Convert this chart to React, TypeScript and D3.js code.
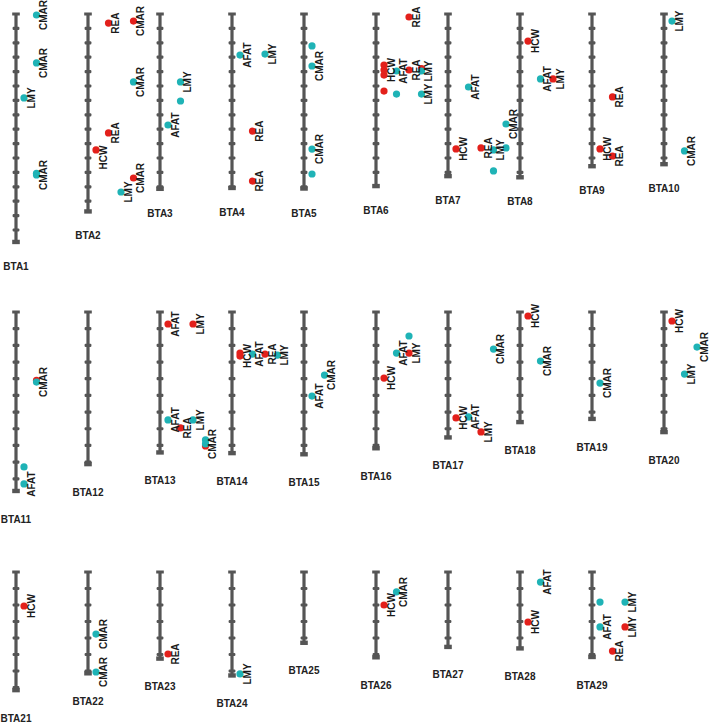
import React from "react";
import * as d3 from "d3";

// ---------- data ----------
const chromosomes = [
  "BTA1","BTA2","BTA3","BTA4","BTA5","BTA6","BTA7","BTA8","BTA9","BTA10",
  "BTA11","BTA12","BTA13","BTA14","BTA15","BTA16","BTA17","BTA18","BTA19","BTA20",
  "BTA21","BTA22","BTA23","BTA24","BTA25","BTA26","BTA27","BTA28","BTA29",
];
// chromosome lengths (Mb)
const chromLengths = [
  158.3, 137.1, 121.4, 120.8, 121.2, 119.5, 112.6, 113.4, 105.7, 104.3,
  107.3, 91.2, 84.2, 84.6, 85.3, 81.7, 75.2, 66.0, 64.1, 72.0,
  71.6, 61.4, 52.5, 62.7, 42.9, 51.7, 45.4, 46.3, 51.5,
];
const tickStepMb = 10;
const traits = ["HCW", "REA", "AFAT", "LMY", "CMAR"];
const effectClasses = ["red", "teal"];

// [chromosome, position Mb, lane, trait label ("" = unlabeled), class, label position Mb (optional)]
type Qtl = [string, number, number, string, string, number?];
const qtls: Qtl[] = [
  // BTA1
  ["BTA1", 0.7, 1, "CMAR", "teal"],
  ["BTA1", 34.0, 1, "CMAR", "teal"],
  ["BTA1", 58.3, 0, "LMY", "teal"],
  ["BTA1", 110.6, 1, "", "teal"],
  ["BTA1", 111.8, 1, "CMAR", "teal"],
  // BTA2
  ["BTA2", 6.3, 1, "REA", "red"],
  ["BTA2", 4.9, 3, "CMAR", "red"],
  ["BTA2", 47.2, 3, "CMAR", "teal"],
  ["BTA2", 82.6, 1, "REA", "red"],
  ["BTA2", 94.4, 0, "HCW", "red", 99.7],
  ["BTA2", 113.9, 3, "CMAR", "red"],
  ["BTA2", 123.6, 2, "LMY", "teal"],
  // BTA3
  ["BTA3", 47.2, 1, "LMY", "teal"],
  ["BTA3", 60.4, 1, "", "teal"],
  ["BTA3", 77.1, 0, "AFAT", "teal"],
  // BTA4
  ["BTA4", 28.5, 0, "AFAT", "teal"],
  ["BTA4", 27.8, 2, "LMY", "teal"],
  ["BTA4", 81.3, 1, "REA", "red"],
  ["BTA4", 116.0, 1, "REA", "red"],
  // BTA5
  ["BTA5", 22.2, 0, "", "teal"],
  ["BTA5", 36.1, 0, "CMAR", "teal"],
  ["BTA5", 93.8, 0, "CMAR", "teal"],
  ["BTA5", 111.1, 0, "", "teal"],
  // BTA6
  ["BTA6", 2.1, 2, "REA", "red"],
  ["BTA6", 35.4, 0, "", "red"],
  ["BTA6", 42.4, 0, "", "red"],
  ["BTA6", 38.9, 0, "HCW", "red"],
  ["BTA6", 39.6, 1, "AFAT", "teal"],
  ["BTA6", 38.9, 2, "REA", "red"],
  ["BTA6", 38.0, 3, "", "red"],
  ["BTA6", 39.6, 3, "LMY", "teal"],
  ["BTA6", 53.5, 0, "", "red"],
  ["BTA6", 55.6, 1, "", "teal"],
  ["BTA6", 55.6, 3, "LMY", "teal"],
  // BTA7
  ["BTA7", 50.7, 1, "AFAT", "teal"],
  ["BTA7", 93.7, 0, "HCW", "red"],
  ["BTA7", 93.0, 2, "REA", "red"],
  ["BTA7", 94.4, 3, "LMY", "teal"],
  ["BTA7", 93.0, 4, "", "teal"],
  ["BTA7", 76.4, 4, "CMAR", "teal"],
  ["BTA7", 109.0, 3, "", "teal"],
  // BTA8
  ["BTA8", 18.8, 0, "HCW", "red"],
  ["BTA8", 45.1, 1, "AFAT", "teal"],
  ["BTA8", 45.1, 2, "LMY", "red"],
  // BTA9
  ["BTA9", 57.6, 1, "REA", "red"],
  ["BTA9", 93.7, 0, "HCW", "red"],
  ["BTA9", 98.6, 1, "REA", "red"],
  // BTA10
  ["BTA10", 4.9, 0, "LMY", "teal"],
  ["BTA10", 95.1, 1, "CMAR", "teal"],
  // BTA11
  ["BTA11", 41.0, 1, "", "red"],
  ["BTA11", 42.0, 1, "CMAR", "teal"],
  ["BTA11", 92.9, 0, "", "teal"],
  ["BTA11", 103.1, 0, "AFAT", "teal"],
  // BTA13
  ["BTA13", 7.2, 0, "AFAT", "red"],
  ["BTA13", 7.2, 2, "LMY", "red"],
  ["BTA13", 64.7, 0, "AFAT", "teal"],
  ["BTA13", 69.5, 1, "REA", "red"],
  ["BTA13", 64.7, 2, "LMY", "teal"],
  ["BTA13", 80.3, 3, "", "red"],
  ["BTA13", 76.7, 3, "", "teal"],
  ["BTA13", 79.1, 3, "CMAR", "teal"],
  // BTA14
  ["BTA14", 24.6, 0, "", "red"],
  ["BTA14", 26.4, 0, "HCW", "red"],
  ["BTA14", 25.2, 1, "AFAT", "teal"],
  ["BTA14", 25.2, 2, "REA", "red"],
  ["BTA14", 25.8, 3, "LMY", "teal"],
  // BTA15
  ["BTA15", 50.4, 0, "AFAT", "teal"],
  ["BTA15", 37.8, 1, "CMAR", "teal"],
  // BTA16
  ["BTA16", 39.6, 0, "HCW", "red"],
  ["BTA16", 24.6, 1, "AFAT", "teal"],
  ["BTA16", 24.6, 2, "LMY", "red"],
  ["BTA16", 14.4, 2, "", "teal"],
  // BTA17
  ["BTA17", 63.5, 0, "HCW", "red"],
  ["BTA17", 62.9, 1, "AFAT", "teal"],
  ["BTA17", 71.9, 2, "LMY", "red"],
  ["BTA17", 22.2, 3, "CMAR", "teal"],
  // BTA18
  ["BTA18", 2.4, 0, "HCW", "red"],
  ["BTA18", 29.4, 1, "CMAR", "teal"],
  // BTA19
  ["BTA19", 42.6, 0, "CMAR", "teal"],
  // BTA20
  ["BTA20", 5.4, 0, "HCW", "red"],
  ["BTA20", 21.0, 2, "CMAR", "teal"],
  ["BTA20", 37.2, 1, "LMY", "teal"],
  // BTA21
  ["BTA21", 20.6, 0, "HCW", "red"],
  // BTA22
  ["BTA22", 37.6, 0, "CMAR", "teal"],
  ["BTA22", 60.6, 0, "CMAR", "teal"],
  // BTA23
  ["BTA23", 49.7, 0, "REA", "red"],
  // BTA24
  ["BTA24", 61.8, 0, "LMY", "teal"],
  // BTA26
  ["BTA26", 20.0, 0, "HCW", "red"],
  ["BTA26", 12.1, 1, "CMAR", "teal"],
  // BTA28
  ["BTA28", 6.1, 1, "AFAT", "teal"],
  ["BTA28", 30.3, 0, "HCW", "red"],
  // BTA29
  ["BTA29", 18.2, 0, "", "teal"],
  ["BTA29", 33.3, 0, "AFAT", "teal"],
  ["BTA29", 18.2, 2, "LMY", "teal"],
  ["BTA29", 33.3, 2, "LMY", "red"],
  ["BTA29", 47.9, 1, "REA", "red"],
];

// ---------- layout ----------
const W = 709;
const H = 725;
const rows = [
  { start: 0, count: 10, top: 14, pxPerMb: 1.44 },
  { start: 10, count: 10, top: 312, pxPerMb: 1.668 },
  { start: 20, count: 9, top: 572, pxPerMb: 1.65 },
];
const colX = d3.scaleLinear().domain([0, 9]).range([16, 664]);
const laneX = d3.scaleLinear().domain([0, 4]).range([8, 58]);
const colorScale = d3.scaleOrdinal<string, string>().domain(effectClasses).range(["#e3201b", "#1fb3b6"]);

const BAR = "#555555";
const FONT = "'Liberation Sans', Arial, Helvetica, sans-serif";

export default function App() {
  const chromIndex = new Map(chromosomes.map((c, i) => [c, i]));
  const rowOf = (i: number) => rows.find((r) => i >= r.start && i < r.start + r.count)!;
  const yScaleOf = (i: number) => {
    const r = rowOf(i);
    return d3.scaleLinear().domain([0, 100]).range([r.top, r.top + 100 * r.pxPerMb]);
  };
  const xOf = (i: number) => colX(i - rowOf(i).start);

  return (
    <svg
      width={W}
      height={H}
      style={{ position: "absolute", left: 0, top: 0, background: "#fff" }}
      fontFamily={FONT}
    >
      {chromosomes.map((name, i) => {
        const y = yScaleOf(i);
        const x = xOf(i);
        const len = chromLengths[i];
        const ticks = d3.range(tickStepMb, len, tickStepMb);
        return (
          <g key={name}>
            <line x1={x} x2={x} y1={y(0)} y2={y(len)} stroke={BAR} strokeWidth={3.2} />
            <rect x={x - 3.8} y={y(0) - 1.5} width={7.6} height={3} fill={BAR} />
            <rect x={x - 3.8} y={y(len) - 2.2} width={7.6} height={4.4} fill={BAR} />
            {ticks.map((t) => (
              <rect key={t} x={x - 3.4} y={y(t) - 1.6} width={6.8} height={3.2} rx={1} fill={BAR} />
            ))}
            <text
              x={x}
              y={y(len + 17)}
              dy="0.35em"
              textAnchor="middle"
              fontSize={10}
              fontWeight="bold"
              fill="#222"
            >
              {name}
            </text>
          </g>
        );
      })}
      {qtls.map((q, k) => {
        const i = chromIndex.get(q[0])!;
        const y = yScaleOf(i);
        const cx = xOf(i) + laneX(q[2]);
        return <circle key={"d" + k} cx={cx} cy={y(q[1])} r={3.6} fill={colorScale(q[4])} />;
      })}
      {qtls
        .filter((q) => q[3] !== "")
        .map((q, k) => {
          const i = chromIndex.get(q[0])!;
          const y = yScaleOf(i);
          const cx = xOf(i) + laneX(q[2]);
          const ly = y(q[5] !== undefined ? q[5] : q[1]);
          return (
            <text
              key={"l" + k}
              transform={`translate(${cx + 7},${ly}) rotate(-90)`}
              dy="0.35em"
              textAnchor="middle"
              fontSize={10}
              fontWeight="bold"
              fill="#1a1a1a"
            >
              {q[3]}
            </text>
          );
        })}
    </svg>
  );
}
